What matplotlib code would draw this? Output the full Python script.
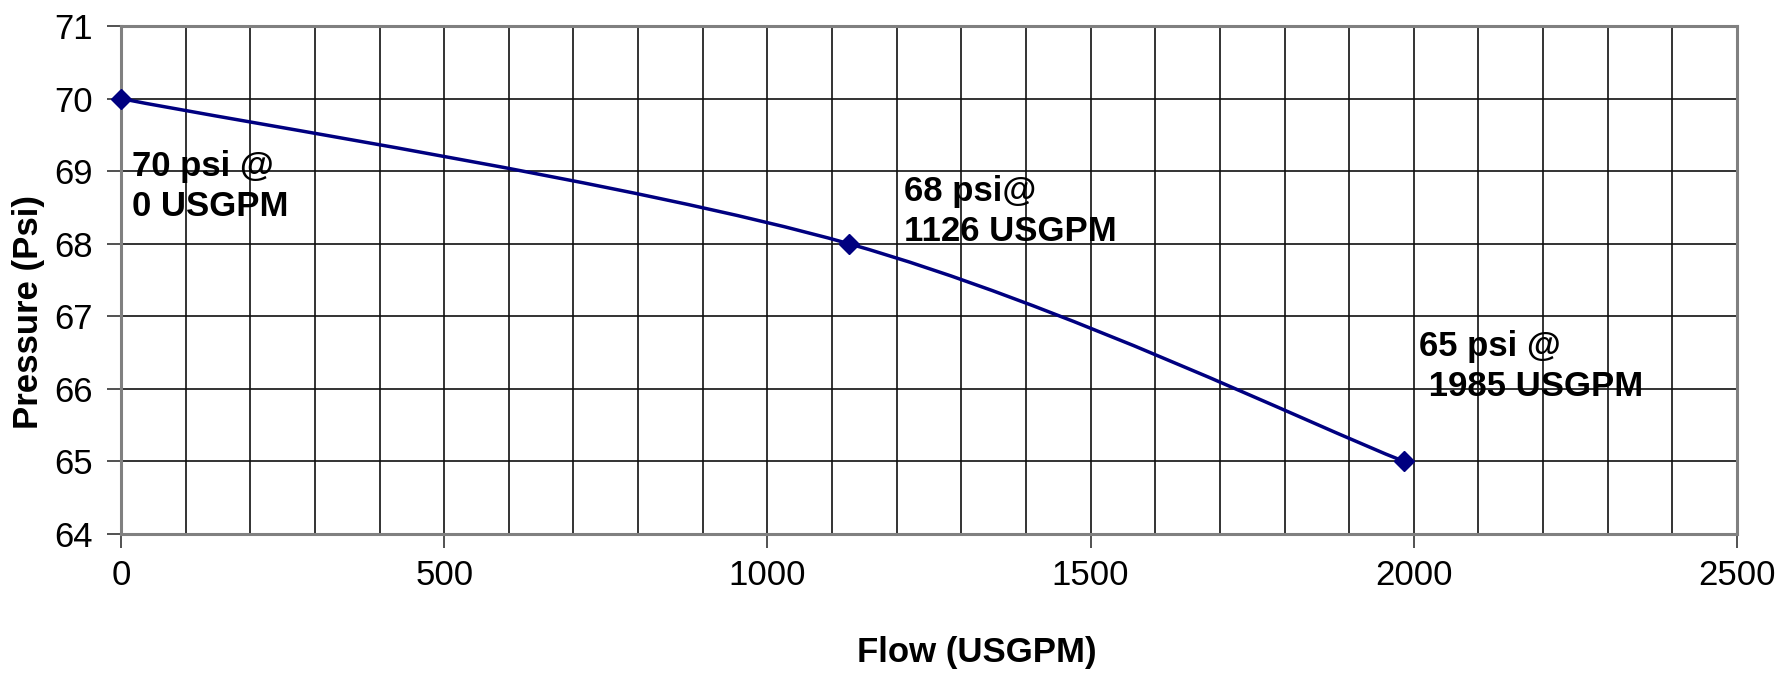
import matplotlib
matplotlib.use("Agg")
import matplotlib.pyplot as plt
from matplotlib.path import Path
from matplotlib.patches import PathPatch
import numpy as np

plt.rcParams['font.family'] = ['Liberation Sans', 'DejaVu Sans']
fs = 25

flow = [0, 1126, 1985]
pressure = [70, 68, 65]
labels = ["70 psi @\n0 USGPM", "68 psi@\n1126 USGPM", "65 psi @\n 1985 USGPM"]
label_pos = [(17, 69.29), (1211, 68.94), (2008, 66.81)]
x_ticks = [0, 500, 1000, 1500, 2000, 2500]
y_ticks = [64, 65, 66, 67, 68, 69, 70, 71]

line_color = '#000080'

fig = plt.figure(figsize=(17.85, 6.79), dpi=100)
ax = fig.add_axes([121/1785, 1-534/679, (1737-121)/1785, (534-26)/679])
ax.set_xlim(0, 2500)
ax.set_ylim(64, 71)

# smooth (Catmull-Rom style) curve through the data points, as Excel draws it
pts = np.column_stack([flow, pressure]).astype(float)
n = len(pts)
verts = [tuple(pts[0])]
codes = [Path.MOVETO]
for i in range(n - 1):
    p_prev = pts[i - 1] if i > 0 else pts[i]
    p0 = pts[i]
    p1 = pts[i + 1]
    p_next = pts[i + 2] if i + 2 < n else pts[i + 1]
    c1 = p0 + (p1 - p_prev) / 6.0
    c2 = p1 - (p_next - p0) / 6.0
    verts += [tuple(c1), tuple(c2), tuple(p1)]
    codes += [Path.CURVE4] * 3
ax.add_patch(PathPatch(Path(verts, codes), facecolor='none', edgecolor=line_color,
                       lw=2.5, zorder=3, capstyle='round'))
ax.plot(flow, pressure, linestyle='none', marker='D', markersize=10,
        color=line_color, zorder=4, clip_on=False)

for (tx, ty), txt in zip(label_pos, labels):
    ax.text(tx, ty, txt, fontsize=fs, fontweight='bold', va='top', ha='left',
            linespacing=1.25, zorder=5)

ax.set_xticks(x_ticks)
ax.set_yticks(y_ticks)
ax.set_xticks(np.arange(0, 2501, 100), minor=True)
ax.grid(True, which='major', color='#111111', lw=1.2)
ax.grid(True, which='minor', axis='x', color='#111111', lw=1.2)
ax.set_axisbelow(True)
ax.tick_params(axis='both', which='major', direction='out', length=10, width=1.2,
               color='#333333', labelsize=fs)
ax.tick_params(axis='x', which='major', pad=8)
ax.tick_params(axis='y', which='major', pad=10)
ax.tick_params(axis='x', which='minor', length=0)
for sp in ax.spines.values():
    sp.set_color('#808080')
    sp.set_linewidth(2.2)

ax.set_xlabel('Flow (USGPM)', fontsize=fs, fontweight='bold')
ax.xaxis.set_label_coords((977-121)/1616, (534-636)/508)
ax.set_ylabel('Pressure (Psi)', fontsize=fs, fontweight='bold')
ax.yaxis.set_label_coords((45-121)/1616, 0.437)

fig.savefig('out.png', dpi=100)
